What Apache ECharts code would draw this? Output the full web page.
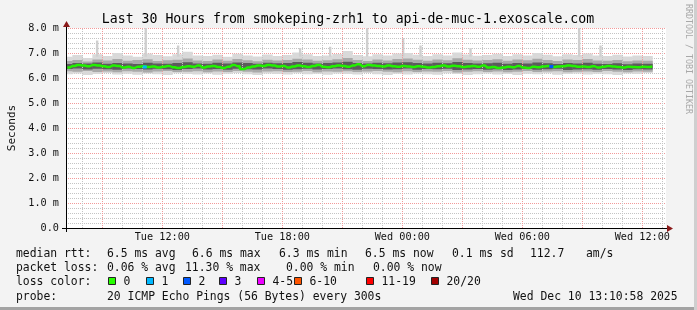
<!DOCTYPE html>
<html><head><meta charset="utf-8">
<script src="https://cdn.jsdelivr.net/npm/echarts@6/dist/echarts.min.js"></script>
<style>html,body{margin:0;padding:0;background:#f3f3f3}#c{width:697px;height:310px}</style>
</head><body><div id="c"></div>
<script>
// ---------------- data (hours since Tue 00:00) ----------------
const medianStart = 7.25, medianStep = 0.25;
const medianRtt = [
  6.42, 6.48, 6.52, 6.50, 6.47, 6.52, 6.50,
  6.47, 6.44, 6.50, 6.48, 6.42, 6.45,
  6.40, 6.45, 6.47, 6.44, 6.46, 6.42,
  6.45, 6.48, 6.43, 6.40, 6.44, 6.47,
  6.45, 6.50, 6.42, 6.46, 6.48, 6.44,
  6.40, 6.45, 6.52, 6.47, 6.36, 6.42,
  6.46, 6.50, 6.48, 6.52, 6.50, 6.46,
  6.48, 6.42, 6.46, 6.50, 6.47, 6.44,
  6.48, 6.52, 6.45, 6.43, 6.47, 6.50,
  6.48, 6.45, 6.50, 6.55, 6.47, 6.52,
  6.50, 6.48, 6.46, 6.50, 6.47, 6.45,
  6.48, 6.46, 6.44, 6.47, 6.45, 6.42,
  6.44, 6.47, 6.50, 6.46, 6.49, 6.47,
  6.44, 6.46, 6.48, 6.45, 6.50, 6.42,
  6.44, 6.40, 6.42, 6.45, 6.43, 6.48,
  6.42, 6.40, 6.45, 6.43, 6.46, 6.48,
  6.44, 6.46, 6.47, 6.50, 6.48, 6.45,
  6.46, 6.44, 6.47, 6.42, 6.45, 6.48,
  6.46, 6.44, 6.42, 6.45, 6.44, 6.43,
  6.45, 6.44, 6.46
];
// samples where the median carried packet loss: [hour, rtt, loss-colour index]
const lossHours = [11.12, 31.45];
const lossRtt   = [6.44, 6.46];
const lossIndex = [1, 2];

const smokeStart = 7.25, smokeStep = 0.5;
const outerLow = [
  6.15, 6.18, 6.12, 6.16, 6.20, 6.14, 6.17, 6.13, 6.18, 6.15,
  6.12, 6.19, 6.16, 6.14, 6.18, 6.13, 6.17, 6.20, 6.15, 6.12,
  6.18, 6.16, 6.14, 6.19, 6.15, 6.17, 6.13, 6.18, 6.16, 6.14,
  6.20, 6.15, 6.12, 6.17, 6.14, 6.18, 6.15, 6.13, 6.19, 6.16,
  6.12, 6.15, 6.18, 6.14, 6.16, 6.12, 6.17, 6.15, 6.19, 6.13,
  6.16, 6.18, 6.14, 6.17, 6.15, 6.12, 6.18, 6.16, 6.20
];
const outerHigh = [
  6.85, 6.92, 6.80, 6.95, 6.88, 7.00, 6.90, 6.85, 6.98, 6.92,
  6.87, 6.95, 7.05, 6.90, 6.88, 6.93, 6.85, 6.97, 6.90, 6.86,
  6.94, 6.88, 6.92, 7.02, 6.95, 6.88, 6.90, 6.96, 7.08, 6.92,
  6.87, 6.95, 6.90, 6.98, 7.00, 6.93, 6.88, 6.95, 6.90, 7.02,
  6.94, 6.89, 6.92, 6.97, 6.88, 6.95, 6.90, 7.00, 6.93, 6.87,
  6.95, 6.92, 6.98, 6.90, 6.88, 6.93, 6.86, 6.90, 6.88
];
const midLow = [
  6.27, 6.25, 6.28, 6.24, 6.26, 6.23, 6.27, 6.25, 6.22, 6.26,
  6.28, 6.24, 6.25, 6.27, 6.23, 6.26, 6.24, 6.28, 6.25, 6.22,
  6.26, 6.27, 6.24, 6.25, 6.28, 6.23, 6.26, 6.25, 6.27, 6.24,
  6.26, 6.28, 6.25, 6.23, 6.27, 6.24, 6.26, 6.25, 6.28, 6.22,
  6.25, 6.27, 6.24, 6.26, 6.23, 6.25, 6.28, 6.24, 6.26, 6.27,
  6.23, 6.25, 6.26, 6.24, 6.28, 6.25, 6.23, 6.26, 6.25
];
const midHigh = [
  6.68, 6.72, 6.66, 6.74, 6.70, 6.76, 6.69, 6.72, 6.75, 6.68,
  6.71, 6.73, 6.78, 6.70, 6.68, 6.74, 6.69, 6.76, 6.71, 6.67,
  6.73, 6.70, 6.72, 6.77, 6.74, 6.69, 6.71, 6.75, 6.80, 6.72,
  6.68, 6.74, 6.70, 6.76, 6.78, 6.73, 6.69, 6.74, 6.71, 6.79,
  6.73, 6.70, 6.72, 6.75, 6.69, 6.74, 6.71, 6.77, 6.72, 6.68,
  6.74, 6.72, 6.76, 6.70, 6.69, 6.72, 6.67, 6.70, 6.69
];
const innerLow = [
  6.36, 6.38, 6.34, 6.37, 6.35, 6.33, 6.38, 6.36, 6.34, 6.37,
  6.35, 6.32, 6.36, 6.38, 6.34, 6.36, 6.33, 6.37, 6.35, 6.34,
  6.38, 6.36, 6.33, 6.35, 6.37, 6.34, 6.36, 6.38, 6.35, 6.33,
  6.37, 6.36, 6.34, 6.35, 6.38, 6.33, 6.36, 6.35, 6.37, 6.32,
  6.34, 6.36, 6.33, 6.35, 6.32, 6.34, 6.36, 6.33, 6.35, 6.37,
  6.32, 6.34, 6.35, 6.33, 6.36, 6.34, 6.32, 6.35, 6.34
];
const innerHigh = [
  6.56, 6.60, 6.58, 6.62, 6.57, 6.60, 6.58, 6.56, 6.61, 6.58,
  6.57, 6.60, 6.63, 6.58, 6.57, 6.61, 6.58, 6.62, 6.60, 6.57,
  6.61, 6.59, 6.60, 6.64, 6.61, 6.58, 6.60, 6.62, 6.65, 6.60,
  6.58, 6.61, 6.59, 6.62, 6.63, 6.60, 6.58, 6.61, 6.59, 6.64,
  6.60, 6.58, 6.59, 6.61, 6.57, 6.60, 6.58, 6.62, 6.59, 6.56,
  6.60, 6.58, 6.61, 6.57, 6.56, 6.59, 6.55, 6.58, 6.57
];
const spikeHours = [8.73, 11.16, 12.78, 18.88, 20.38, 22.23, 24.03, 24.9, 27.4, 32.83, 33.9];
const spikeBase  = [6.85, 6.85, 6.85, 6.85, 6.85, 6.85, 6.85, 6.85, 6.85, 6.85, 6.85];
const spikeTop   = [7.50, 8.00, 7.30, 7.20, 7.25, 8.00, 7.60, 7.30, 7.20, 8.00, 7.30];

const xTickHours  = [12, 18, 24, 30, 36];
const xTickLabels = ['Tue 12:00', 'Tue 18:00', 'Wed 00:00', 'Wed 06:00', 'Wed 12:00'];
const xMin = 7.1833, xMax = 37.1833;

const titleText = 'Last 30 Hours from smokeping-zrh1 to api-de-muc-1.exoscale.com';
const legendRows = [
  [[16, 'median rtt:'], [107, '6.5 ms avg'], [192, '6.6 ms max'], [279, '6.3 ms min'], [365, '6.5 ms now'], [452, '0.1 ms sd'], [530, '112.7'], [586, 'am/s']],
  [[16, 'packet loss:'], [107, '0.06 % avg'], [185, '11.30 % max'], [286, '0.00 % min'], [373, '0.00 % now']],
  [[16, 'loss color:']],
  [[16, 'probe:'], [107, '20 ICMP Echo Pings (56 Bytes) every 300s'], [513, 'Wed Dec 10 13:10:58 2025']]
];
const lossLabels = ['0', '1', '2', '3', '4-5', '6-10', '11-19', '20/20'];
const lossColors = ['#26ff00', '#00b8ff', '#0059ff', '#5e00ff', '#ed00ff', '#ff5500', '#ff0000', '#a10000'];
const lossBoxX = [108, 146, 183, 219, 257, 294, 366, 431];

// ---------------- build ----------------
const MONO = '"DejaVu Sans Mono", monospace';
const pairs = (start, step, arr) => arr.map((v, i) => [start + i * step, v]);
const triples = (start, step, lo, hi) => lo.map((v, i) => [start + i * step, v, hi[i]]);

const minorHours = [], majorHours = [];
for (let h = 8; h <= 37; h++) { if (h % 3 === 0) majorHours.push(h); else minorHours.push(h); }

function rangeSeries(data, halfWidthHours, color, minPx) {
  return {
    type: 'custom', silent: true, z: 2, clip: true,
    data: data, encode: { x: 0, y: [1, 2] },
    renderItem: function (params, api) {
      const t = api.value(0), lo = api.value(1), hi = api.value(2);
      const a = api.coord([t - halfWidthHours, hi]);
      const b = api.coord([t + halfWidthHours, lo]);
      let x = a[0], w = b[0] - a[0];
      if (minPx && w < minPx) { x = (a[0] + b[0]) / 2 - minPx / 2; w = minPx; }
      return { type: 'rect', shape: { x: x, y: a[1], width: w + 0.4, height: b[1] - a[1] }, style: { fill: color } };
    }
  };
}

const series = [
  { type: 'scatter', data: [], silent: true, z: 1,
    markLine: { silent: true, symbol: ['none', 'none'], label: { show: false }, animation: false,
      lineStyle: { color: '#c4c4c4', type: [1, 1], width: 1 },
      data: minorHours.map(h => ({ xAxis: h })) } },
  { type: 'scatter', data: [], silent: true, z: 1,
    markLine: { silent: true, symbol: ['none', 'none'], label: { show: false }, animation: false,
      lineStyle: { color: '#f29a9a', type: [1, 1], width: 1 },
      data: majorHours.map(h => ({ xAxis: h })) } },
  rangeSeries(triples(smokeStart, smokeStep, outerLow, outerHigh), smokeStep / 2, '#d9d9d9'),
  rangeSeries(spikeHours.map((h, i) => [h, spikeBase[i], spikeTop[i]]), 0.04, '#cfcfcf', 2),
  rangeSeries(triples(smokeStart, smokeStep, midLow, midHigh), smokeStep / 2, '#a9a9a9'),
  rangeSeries(triples(smokeStart, smokeStep, innerLow, innerHigh), smokeStep / 2, '#5c5c5c'),
  { type: 'line', data: pairs(medianStart, medianStep, medianRtt), step: 'middle', symbol: 'none',
    lineStyle: { color: '#22f000', width: 2.5 }, silent: true, z: 5 },
  { type: 'custom', silent: true, z: 6,
    data: lossHours.map((h, i) => [h, lossRtt[i], lossIndex[i]]), encode: { x: 0, y: 1 },
    renderItem: function (params, api) {
      const p = api.coord([api.value(0), api.value(1)]);
      return { type: 'rect', shape: { x: p[0] - 2, y: p[1] - 1.5, width: 4, height: 3 }, style: { fill: lossColors[api.value(2)] } };
    } }
];

const LEG_FONT = '11.4px ' + MONO;
const graphics = [];
graphics.push({ type: 'text', x: 348, y: 20, style: { text: titleText, font: '13.2px ' + MONO, fill: '#000', align: 'center', verticalAlign: 'middle' } });
graphics.push({ type: 'text', x: 688, y: 59, rotation: -Math.PI / 2, style: { text: 'RRDTOOL / TOBI OETIKER', font: '8.3px ' + MONO, fill: '#a8a8a8', align: 'center', verticalAlign: 'middle' } });
const rowY = [254, 268.5, 282.5, 297];
legendRows.forEach((row, r) => row.forEach(([x, t]) => {
  graphics.push({ type: 'text', x: x, y: rowY[r], style: { text: t, font: LEG_FONT, fill: '#111', align: 'left', verticalAlign: 'middle' } });
}));
lossLabels.forEach((l, i) => {
  graphics.push({ type: 'rect', shape: { x: lossBoxX[i] + 0.5, y: 277.5, width: 7, height: 7 }, style: { fill: lossColors[i], stroke: '#222', lineWidth: 1 } });
  graphics.push({ type: 'text', x: lossBoxX[i] + 15.5, y: 282.5, style: { text: l, font: LEG_FONT, fill: '#111', align: 'left', verticalAlign: 'middle' } });
});
// axis lines and arrows
graphics.push({ type: 'line', shape: { x1: 62, y1: 228.5, x2: 668, y2: 228.5 }, style: { stroke: '#000', lineWidth: 1 }, z: 10 });
graphics.push({ type: 'line', shape: { x1: 66.5, y1: 232, x2: 66.5, y2: 26 }, style: { stroke: '#000', lineWidth: 1 }, z: 10 });
graphics.push({ type: 'polygon', shape: { points: [[667, 225], [673, 228.5], [667, 232]] }, style: { fill: '#8b1a1a' }, z: 10 });
graphics.push({ type: 'polygon', shape: { points: [[63, 27], [66.5, 21], [70, 27]] }, style: { fill: '#8b1a1a' }, z: 10 });
// frame
graphics.push({ type: 'rect', shape: { x: 0, y: 307, width: 697, height: 3 }, style: { fill: '#a3a3a3' } });
graphics.push({ type: 'rect', shape: { x: 694, y: 0, width: 3, height: 310 }, style: { fill: '#cfcfcf' } });

const chart = echarts.init(document.getElementById('c'), null, { renderer: 'canvas' });
chart.setOption({
  animation: false,
  backgroundColor: '#f3f3f3',
  grid: { left: 66, top: 28, width: 600, height: 200, show: true, backgroundColor: '#ffffff', borderWidth: 0,
    containLabel: false, outerBoundsMode: 'none' },
  xAxis: {
    type: 'value', min: xMin, max: xMax,
    axisLine: { show: false }, axisTick: { show: false }, splitLine: { show: false },
    axisLabel: { customValues: xTickHours, formatter: v => xTickLabels[xTickHours.indexOf(Math.round(v))] || '',
      fontFamily: 'DejaVu Sans Mono', fontSize: 10.2, color: '#111', margin: 4 }
  },
  yAxis: {
    type: 'value', min: 0, max: 8, interval: 1,
    name: 'Seconds', nameLocation: 'middle', nameRotate: 90, nameGap: 48,
    nameTextStyle: { fontFamily: 'DejaVu Sans Mono', fontSize: 11, color: '#111' },
    axisLine: { show: false }, axisTick: { show: false },
    axisLabel: { formatter: v => v === 0 ? '0.0' : v.toFixed(1) + ' m', fontFamily: 'DejaVu Sans Mono', fontSize: 10.2, color: '#111', margin: 7 },
    splitLine: { show: true, lineStyle: { color: '#f29a9a', type: [1, 1] } },
    minorTick: { show: false, splitNumber: 5 },
    minorSplitLine: { show: true, lineStyle: { color: '#c4c4c4', type: [1, 1] } }
  },
  series: series,
  graphic: graphics
});
</script>
</body></html>
